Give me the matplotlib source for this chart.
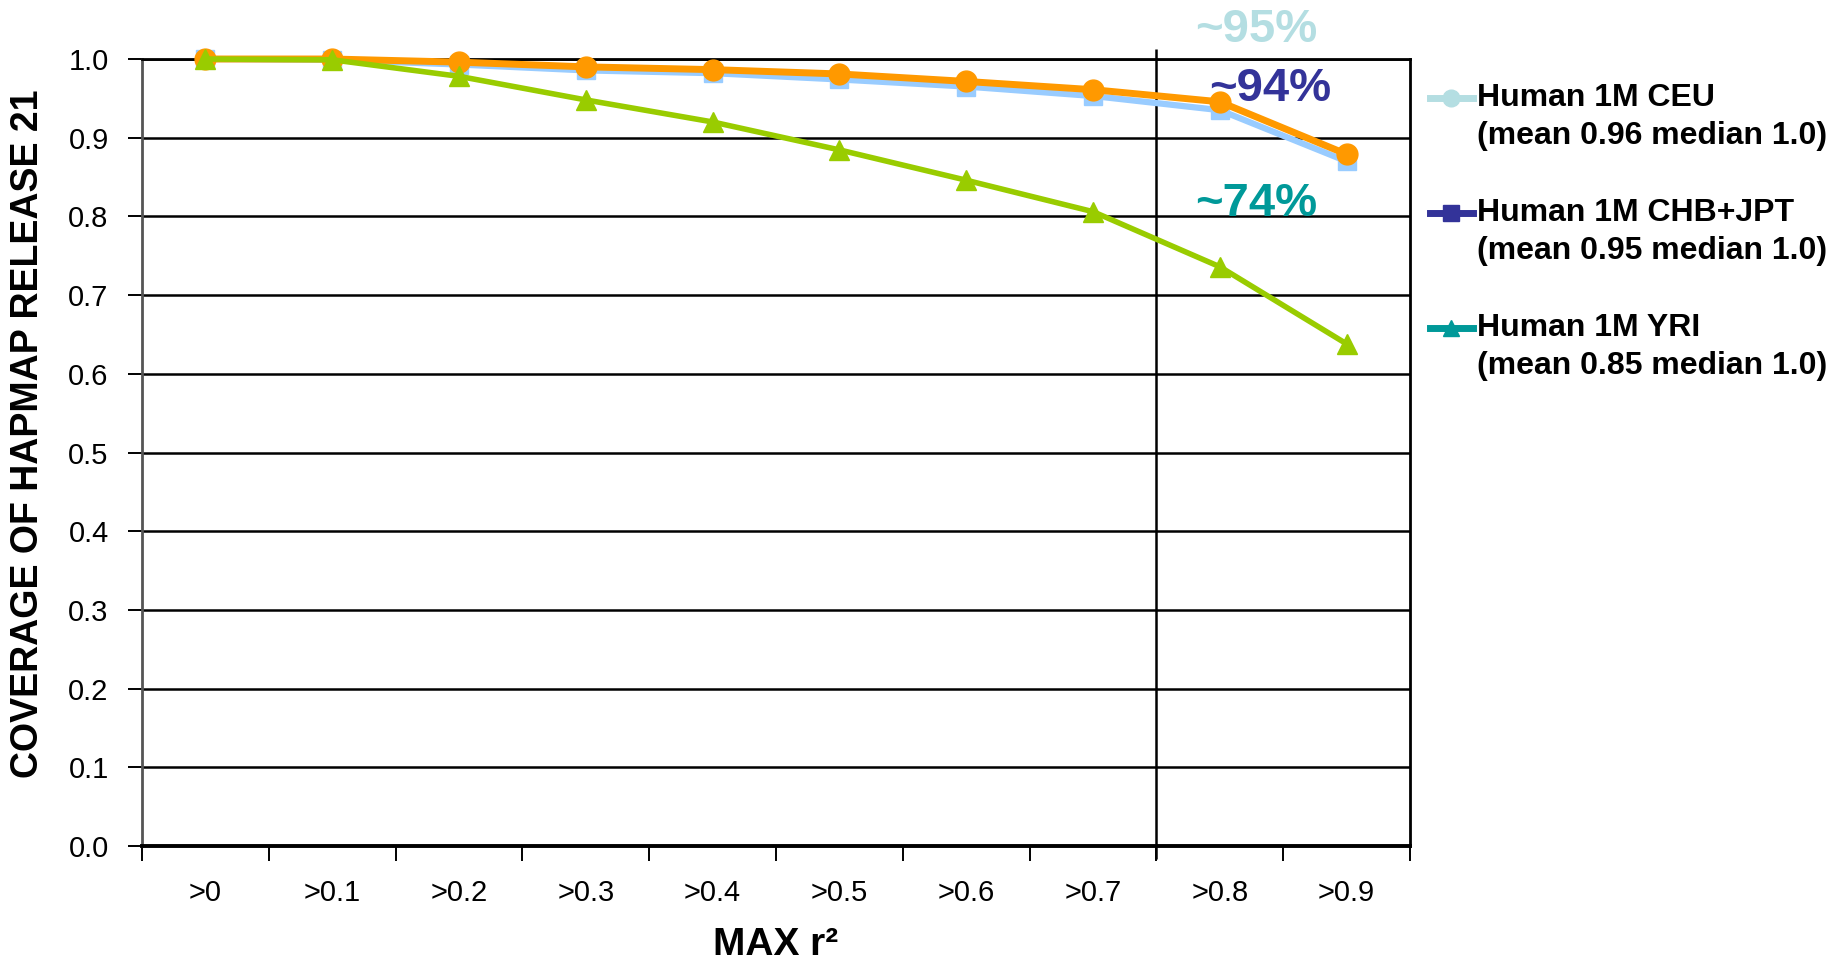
import matplotlib
matplotlib.use("Agg")
import matplotlib.pyplot as plt
from matplotlib.lines import Line2D

plt.rcParams['font.family'] = ['Liberation Sans', 'DejaVu Sans']

categories = [">0", ">0.1", ">0.2", ">0.3", ">0.4", ">0.5", ">0.6", ">0.7", ">0.8", ">0.9"]
orange_circles = [1.0, 1.0, 0.996, 0.990, 0.9865, 0.981, 0.9715, 0.961, 0.9456, 0.879]
blue_squares = [1.0, 0.999, 0.993, 0.9855, 0.982, 0.974, 0.965, 0.953, 0.935, 0.870]
green_triangles = [1.0, 0.999, 0.978, 0.948, 0.920, 0.8845, 0.846, 0.806, 0.736, 0.638]

legend_names = ["Human 1M CEU", "Human 1M CHB+JPT", "Human 1M YRI"]
legend_stats = ["(mean 0.96 median 1.0)", "(mean 0.95 median 1.0)", "(mean 0.85 median 1.0)"]
legend_colors = ["#b4dee2", "#333399", "#009999"]
legend_markers = ["o", "s", "^"]

notes = ["~95%", "~94%", "~74%"]
note_pos = [(8.285, 1.037), (8.40, 0.962), (8.285, 0.816)]

W, H = 1841, 968
fig = plt.figure(figsize=(W / 100, H / 100), dpi=100)
fig.subplots_adjust(left=142 / W, right=1410 / W, top=1 - 59 / H, bottom=1 - 846 / H)
ax = fig.add_subplot(111)

x = list(range(len(categories)))
ax.plot(x, blue_squares, color="#99ccff", lw=4.5, marker="s", ms=13, zorder=3, clip_on=False)
ax.plot(x, orange_circles, color="#ff9900", lw=5, marker="o", ms=15, zorder=4, clip_on=False)
ax.plot(x, green_triangles, color="#99cc00", lw=4, marker="^", ms=15, zorder=5, clip_on=False)

ax.set_xlim(-0.5, len(categories) - 0.5)
ax.set_ylim(0, 1.0)

# boundaries get tick marks, centres get the labels
ax.set_xticks([i - 0.5 for i in range(len(categories) + 1)])
ax.set_xticklabels([])
ax.set_xticks(x, minor=True)
ax.set_xticklabels(categories, minor=True, fontsize=21)
ax.tick_params(axis="x", which="major", direction="out", length=11, width=1.4, color="black")
ax.tick_params(axis="x", which="minor", length=0, pad=24)

yt = [i / 10 for i in range(11)]
ax.set_yticks(yt)
ax.set_yticklabels([f"{v:.1f}" for v in yt], fontsize=21)
ax.tick_params(axis="y", direction="out", length=10, width=1.4, color="black", pad=14)

ax.grid(axis="y", color="black", lw=1.8, zorder=1)
ax.set_axisbelow(True)
for side in ["top", "right"]:
    ax.spines[side].set_linewidth(2)
    ax.spines[side].set_color("black")
ax.spines["left"].set_color("#555555")
ax.spines["left"].set_linewidth(2)
ax.spines["bottom"].set_linewidth(2.8)

ax.vlines(7.5, -0.017, 1.013, color="black", lw=1.8, clip_on=False, zorder=2)

ax.set_xlabel("MAX r²", fontsize=28, fontweight="bold", labelpad=14)
ax.set_ylabel("COVERAGE OF HAPMAP RELEASE 21", fontsize=27, fontweight="bold")
ax.yaxis.set_label_coords(-0.0757, 0.524)

for txt, (tx, ty), col in zip(notes, note_pos, legend_colors):
    ax.text(tx, ty, txt, color=col, fontsize=34, fontweight="bold",
            ha="center", va="center", clip_on=False, zorder=6)

# legend drawn by hand so the handle sits beside the first text line
row_y = [98, 213, 328]
for name, stat, col, mk, ry in zip(legend_names, legend_stats, legend_colors, legend_markers, row_y):
    yf = 1 - ry / H
    fig.add_artist(Line2D([1430 / W, 1473 / W], [yf, yf], color=col, lw=5,
                          transform=fig.transFigure))
    fig.add_artist(Line2D([1451 / W], [yf], color=col, marker=mk, ms=12,
                          transform=fig.transFigure))
    fig.text(1477 / W, yf, name, fontsize=23, fontweight="bold", va="center", ha="left")
    fig.text(1477 / W, 1 - (ry + 38) / H, stat, fontsize=23, fontweight="bold", va="center", ha="left")

fig.savefig("out.png", dpi=100, facecolor="white")
